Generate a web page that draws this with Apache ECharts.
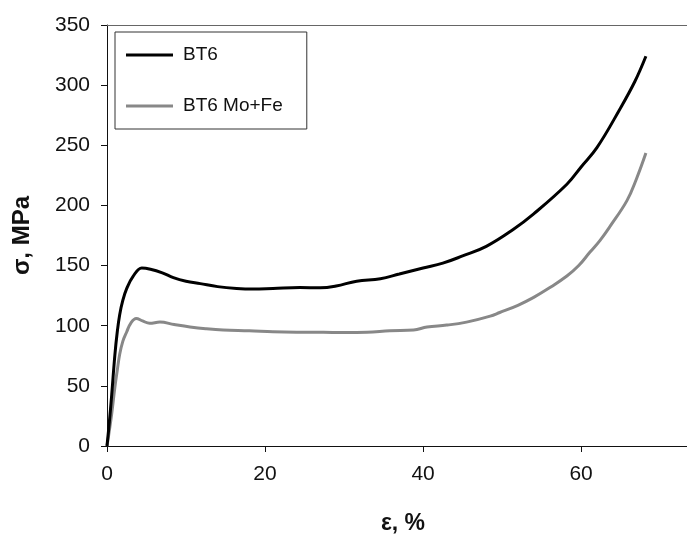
<!DOCTYPE html>
<html>
<head>
<meta charset="utf-8">
<script src="https://cdn.jsdelivr.net/npm/echarts@6/dist/echarts.min.js"></script>
<style>
  html, body { margin: 0; padding: 0; background: #fff; }
  #main { width: 687px; height: 540px; }
</style>
</head>
<body>
<div id="main"></div>
<script>
// strain (%) / stress (MPa)
const bt6Strain = [0, 0.3, 0.6, 1.0, 1.3, 1.6, 2.0, 2.5, 3.3, 4.4, 5.5, 7, 8.4, 10, 11.8, 14, 16.4, 18.5, 21, 24.4, 27, 29, 31.6, 34.6, 37, 40, 42.5, 45, 48, 51.4, 54, 58.2, 60, 62, 64.9, 66.8, 68.2];
const bt6Stress = [0, 20, 43, 76, 95, 109, 121, 131, 141, 148, 147, 144, 140, 137, 135, 132.5, 131, 130.5, 131, 131.8, 131.5, 133, 137, 139, 143, 148, 152, 158, 166, 180, 193, 217.6, 232, 248, 280, 303, 324];

const moStrain = [0, 0.3, 0.6, 1.0, 1.3, 1.6, 2.0, 2.5, 3.0, 3.7, 4.5, 5.4, 6.7, 8.5, 10.5, 12.5, 14.7, 18, 21, 24, 27.4, 30, 32.9, 35.8, 38.8, 40.5, 43, 45.5, 48.5, 49.7, 52, 54, 56, 58.2, 59.7, 61.1, 62.4, 63.7, 65.8, 67, 68.2];
const moStress = [0, 13, 27, 49, 63, 76, 87, 95, 102, 106, 104, 102, 103, 101, 99, 97.5, 96.4, 95.8, 95, 94.6, 94.5, 94.3, 94.5, 95.8, 96.4, 99, 100.5, 103, 108, 111, 117, 123.6, 131.5, 141.3, 150, 161, 171, 183, 204, 222, 243.5];

const seriesNames = ['BT6', 'BT6 Mo+Fe'];
const xTicks = [0, 20, 40, 60];
const yTicks = [0, 50, 100, 150, 200, 250, 300, 350];

const zip = (xs, ys) => xs.map((x, i) => [x, ys[i]]);

const chart = echarts.init(document.getElementById('main'));
const font = 'Liberation Sans, Arial, sans-serif';
const xMax = 73.4; // picture is cut at the right edge

chart.setOption({
  animation: false,
  backgroundColor: '#fff',
  grid: { left: 107, top: 25, bottom: 87, right: 0 },
  legend: {
    data: seriesNames,
    orient: 'vertical',
    left: 115, top: 32,
    icon: 'rect',
    itemWidth: 47, itemHeight: 3,
    itemGap: 31,
    padding: [13, 24, 13, 11],
    borderColor: '#333', borderWidth: 1,
    textStyle: { fontFamily: font, fontSize: 19, color: '#111', lineHeight: 20, padding: [0, 0, 0, 5] }
  },
  xAxis: [
    {
      type: 'value',
      min: 0, max: xMax, interval: 20,
      name: 'ε, %', nameLocation: 'middle', nameGap: 66,
      nameTextStyle: { fontFamily: font, fontSize: 23, fontWeight: 'bold', color: '#111', padding: [0, 0, 0, 12] },
      axisLine: { onZero: false, lineStyle: { color: '#111', width: 1 } },
      axisTick: { show: true, length: 6, lineStyle: { color: '#111' }, customValues: xTicks },
      axisLabel: { fontFamily: font, fontSize: 21, color: '#111', margin: 18, customValues: xTicks },
      splitLine: { show: false }
    },
    {
      // top edge of the plot box
      type: 'value', position: 'top',
      min: 0, max: xMax,
      axisLine: { show: true, onZero: false, lineStyle: { color: '#666', width: 1 } },
      axisTick: { show: false },
      axisLabel: { show: false },
      splitLine: { show: false }
    }
  ],
  yAxis: {
    type: 'value',
    min: 0, max: 350, interval: 50,
    name: 'σ, MPa', nameLocation: 'middle', nameGap: 73, nameRotate: 90,
    nameTextStyle: { fontFamily: font, fontSize: 24, fontWeight: 'bold', color: '#111' },
    axisLine: { show: true, lineStyle: { color: '#111', width: 1 } },
    axisTick: { show: true, length: 6, lineStyle: { color: '#111' }, customValues: yTicks },
    axisLabel: { fontFamily: font, fontSize: 21, color: '#111', margin: 17, customValues: yTicks },
    splitLine: { show: false }
  },
  series: [
    {
      name: seriesNames[0], type: 'line', data: zip(bt6Strain, bt6Stress),
      showSymbol: false, symbol: 'none', smooth: 0.4,
      lineStyle: { color: '#000', width: 3 }, itemStyle: { color: '#000' }, z: 3
    },
    {
      name: seriesNames[1], type: 'line', data: zip(moStrain, moStress),
      showSymbol: false, symbol: 'none', smooth: 0.4,
      lineStyle: { color: '#888', width: 3 }, itemStyle: { color: '#888' }, z: 2
    }
  ]
});
</script>
</body>
</html>
